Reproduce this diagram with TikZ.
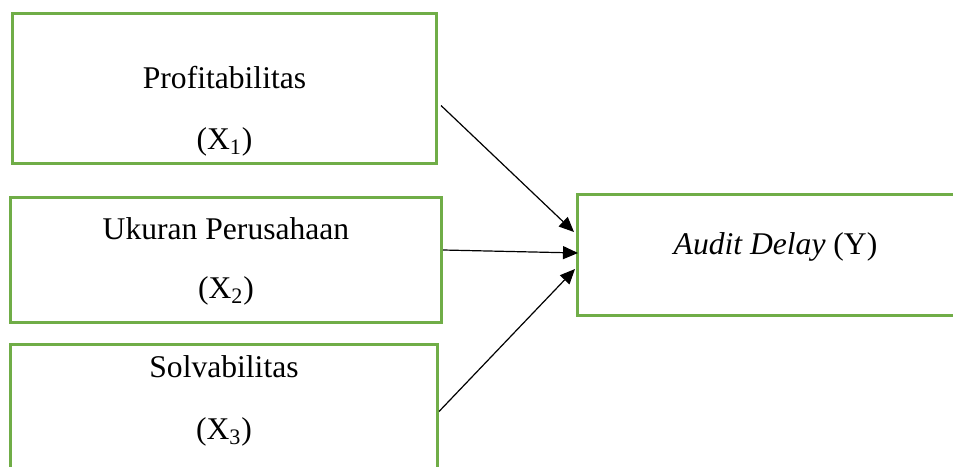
\documentclass[tikz,border=0pt]{standalone}
\usepackage{fontspec}
\setmainfont{Liberation Serif}
\usepackage{tikz}
\usetikzlibrary{calc,arrows.meta}
\definecolor{boxgreen}{HTML}{70AD47}
\tikzstyle{varbox} = [
    draw=boxgreen,
    line width=1.5pt,
    rectangle,
    anchor=north west,
    inner sep=0pt
    ]
\tikzstyle{vartext} = [
    anchor=base,
    inner sep=0pt,
    font=\fontsize{15.8}{19}\selectfont
    ]
\tikzstyle{link} = [
    line width=0.6pt,
    -{Triangle[length=7.5pt,width=6.5pt]}
    ]

\begin{document}
\begin{tikzpicture}[x=0.5pt,y=-0.5pt]
\useasboundingbox (0,0) rectangle (953,466);
\clip (0,0) rectangle (953,466);
% independent variables
\node [varbox, minimum width=212pt, minimum height=75pt] (prof) at (11,12) {};
\node [vartext] (profname) at (prof.center) {Profitabilitas};
\node [vartext] (profvar) at ($(prof.center)+(0,61)$) {(X\textsubscript{1})};

\node [varbox, minimum width=215.5pt, minimum height=62.5pt] (ukur) at (9,196) {};
\node [vartext] (ukurname) at ($(ukur.center)+(0,-20.5)$) {Ukuran Perusahaan};
\node [vartext] (ukurvar) at ($(ukur.center)+(0,38.5)$) {(X\textsubscript{2})};

\node [varbox, minimum width=213.5pt, minimum height=62.5pt] (solv) at (9,343) {};
\node [vartext] (solvname) at ($(solv.center)+(0,-29.5)$) {Solvabilitas};
\node [vartext] (solvvar) at ($(solv.center)+(0,32.5)$) {(X\textsubscript{3})};

% dependent variable
\node [varbox, minimum width=195pt, minimum height=60.5pt] (audit) at (576,193) {};
\node [vartext] (auditname) at ($(audit.center)+(3,-1)$) {\textit{Audit Delay} (Y)};

% arrows
\draw [link] ($(prof.east)+(3,17)$) -- ($(audit.west)+(-2,-23)$);
\draw [link] ($(ukur.east)+(0,-10)$) -- ($(audit.west)+(2,-2)$);
\draw [link] ($(solv.east)+(0,4.5)$) -- ($(audit.west)+(-1,14)$);
\end{tikzpicture}
\end{document}
